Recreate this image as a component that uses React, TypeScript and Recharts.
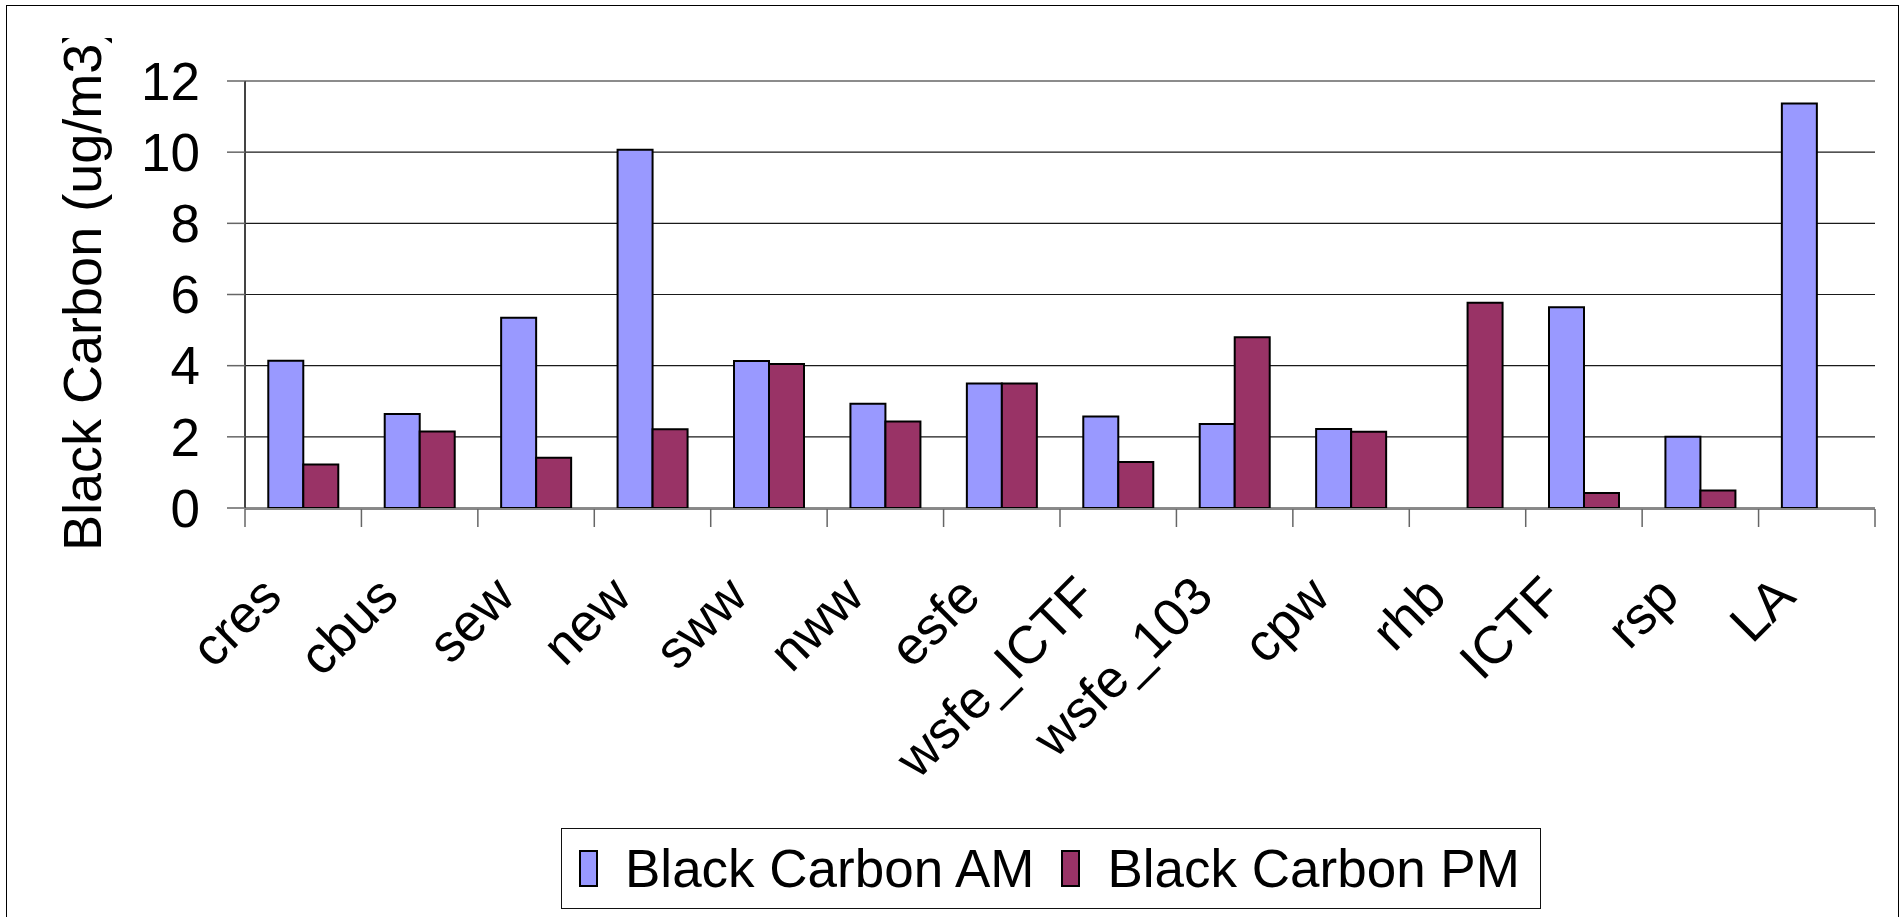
import { BarChart, Bar, XAxis, YAxis, CartesianGrid, Legend, ReferenceArea } from 'recharts'

const sites = ['cres', 'cbus', 'sew', 'new', 'sww', 'nww', 'esfe', 'wsfe_ICTF', 'wsfe_103', 'cpw', 'rhb', 'ICTF', 'rsp', 'LA']
const bcAm = [4.14, 2.64, 5.35, 10.07, 4.13, 2.93, 3.5, 2.57, 2.36, 2.22, null, 5.64, 2.0, 11.37]
const bcPm = [1.22, 2.15, 1.41, 2.21, 4.05, 2.43, 3.5, 1.29, 4.8, 2.14, 5.77, 0.42, 0.49, null]
const yTicks = [0, 2, 4, 6, 8, 10, 12]
const seriesNames = ['Black Carbon AM', 'Black Carbon PM']
const seriesColors = ['#9999FF', '#993366']
const yTitle = 'Black Carbon (ug/m3)'

const data = sites.map((site, i) => ({ site, am: bcAm[i], pm: bcPm[i] }))

const FONT = '"Liberation Sans", Arial, sans-serif'

// label rotated 45deg, plus Excel-style tick marks on the category edges
function SiteTick({ x, y, payload }: any) {
  const half = payload.offset || 0
  const last = payload.index === sites.length - 1
  return (
    <g>
      <line x1={x - half} x2={x - half} y1={y} y2={y + 18} stroke="#666" strokeWidth={1.5} />
      {last && <line x1={x + half} x2={x + half} y1={y} y2={y + 18} stroke="#666" strokeWidth={1.5} />}
      <g transform={`translate(${x - 19},${y + 90})`}>
        <text textAnchor="end" transform="rotate(-45)" fontSize={53} fontFamily={FONT} fill="#000">
          {payload.value}
        </text>
      </g>
    </g>
  )
}

function YTitle() {
  return (
    <g clipPath="url(#ytitle-clip)">
      <defs>
        <clipPath id="ytitle-clip" clipPathUnits="userSpaceOnUse">
          <rect x={0} y={38} width={200} height={600} />
        </clipPath>
      </defs>
      <text
        transform="translate(101,551) rotate(-90)"
        textAnchor="start"
        fontSize={54}
        fontFamily={FONT}
        fill="#000"
      >
        {yTitle}
      </text>
    </g>
  )
}

function LegendBox({ payload }: any) {
  const items = (payload && payload.length ? payload : seriesNames.map((n, i) => ({ value: n, color: seriesColors[i] })))
  return (
    <div
      style={{
        position: 'absolute',
        left: 561,
        top: 828,
        width: 980,
        height: 81,
        border: '1.5px solid #111',
        boxSizing: 'border-box',
        display: 'flex',
        alignItems: 'center',
        paddingLeft: 17,
        background: '#fff',
        fontFamily: FONT,
      }}
    >
      {items.map((it: any) => (
        <div key={it.value} style={{ display: 'flex', alignItems: 'center', marginRight: 27 }}>
          <span
            style={{
              width: 19,
              height: 37,
              background: it.color,
              border: '2px solid #000',
              boxSizing: 'border-box',
              marginRight: 27,
            }}
          />
          <span style={{ fontSize: 53, lineHeight: '53px', color: '#000', whiteSpace: 'nowrap' }}>{it.value}</span>
        </div>
      ))}
    </div>
  )
}

export default function App() {
  return (
    <div style={{ position: 'absolute', left: 0, top: 0, width: 1900, height: 917, overflow: 'hidden', background: '#fff' }}>
      <div
        style={{
          position: 'absolute',
          left: 6,
          top: 5,
          width: 1893,
          height: 1000,
          border: '1.5px solid #000',
          boxSizing: 'border-box',
        }}
      />
      <div style={{ position: 'absolute', left: 0, top: 0 }}>
        <BarChart
          width={1900}
          height={917}
          data={data}
          margin={{ top: 81, right: 25, left: 145, bottom: 407 }}
          barCategoryGap="20%"
          barGap={0}
        >
          <CartesianGrid xAxisId="cat" vertical={false} stroke="#1a1a1a" strokeWidth={1.2} />
          <XAxis
            xAxisId="cat"
            dataKey="site"
            height={1}
            interval={0}
            tickSize={0}
            tickMargin={0}
            tickLine={false}
            axisLine={{ stroke: '#888', strokeWidth: 2 }}
            tick={<SiteTick />}
          />
          <XAxis
            xAxisId="bounds"
            type="number"
            domain={[0, sites.length]}
            height={1}
            tick={false}
            axisLine={false}
            tickLine={false}
          />
          <YAxis
            domain={[0, 12]}
            ticks={yTicks}
            interval={0}
            width={100}
            tickSize={18}
            tickMargin={27}
            axisLine={{ stroke: '#444', strokeWidth: 2 }}
            tickLine={{ stroke: '#666', strokeWidth: 1.5 }}
            tick={{ fontSize: 53, fill: '#000', fontFamily: FONT }}
            label={{ value: yTitle, content: <YTitle /> }}
          />
          <ReferenceArea
            xAxisId="bounds"
            x1={0}
            x2={sites.length}
            y1={0}
            y2={12}
            fill="none"
            fillOpacity={0}
            stroke="#888"
            strokeWidth={2}
          />
          <Bar
            xAxisId="cat"
            dataKey="am"
            name={seriesNames[0]}
            fill={seriesColors[0]}
            stroke="#000"
            strokeWidth={2}
            isAnimationActive={false}
          />
          <Bar
            xAxisId="cat"
            dataKey="pm"
            name={seriesNames[1]}
            fill={seriesColors[1]}
            stroke="#000"
            strokeWidth={2}
            isAnimationActive={false}
          />
          <Legend
            content={<LegendBox />}
            wrapperStyle={{ position: 'absolute', left: 0, top: 0, width: 0, height: 0, overflow: 'visible' }}
          />
        </BarChart>
      </div>
    </div>
  )
}
